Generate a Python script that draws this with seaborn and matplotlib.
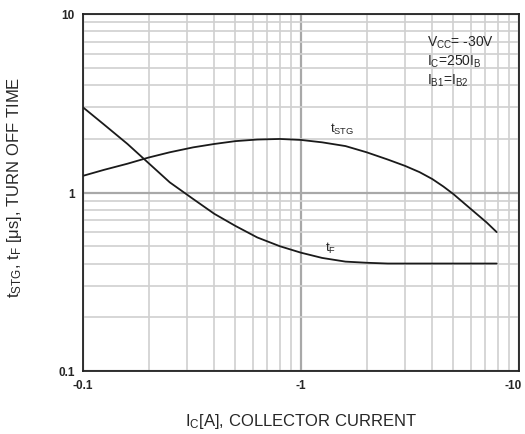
import numpy as np
import pandas as pd
import matplotlib
matplotlib.use("Agg")
import matplotlib.pyplot as plt
import matplotlib.transforms as mtransforms
import seaborn as sns
from matplotlib.ticker import FixedLocator, FixedFormatter, LogLocator, NullFormatter

# Data (|Ic| in A, time in us)
ic_stg = [0.1, 0.125, 0.16, 0.2, 0.25, 0.32, 0.4, 0.5, 0.63, 0.8, 1.0, 1.25, 1.6,
          2.0, 2.5, 3.0, 3.5, 4.0, 4.5, 5.0, 6.0, 7.1, 7.9]
t_stg = [1.24, 1.34, 1.45, 1.57, 1.68, 1.79, 1.87, 1.94, 1.98, 1.995, 1.97, 1.91, 1.82,
         1.68, 1.53, 1.41, 1.30, 1.19, 1.08, 0.98, 0.81, 0.68, 0.60]
ic_f = [0.1, 0.125, 0.16, 0.2, 0.25, 0.32, 0.4, 0.5, 0.63, 0.8, 1.0, 1.25, 1.6,
        2.0, 2.5, 3.2, 4.0, 5.0, 6.3, 7.9]
t_f = [3.0, 2.4, 1.87, 1.46, 1.14, 0.92, 0.76, 0.65, 0.56, 0.50, 0.46, 0.43, 0.41,
       0.404, 0.40, 0.40, 0.40, 0.40, 0.40, 0.40]

x_ticks = [0.1, 1, 10]
x_ticklabels = ["-0.1", "-1", "-10"]
y_ticks = [0.1, 1, 10]
y_ticklabels = ["0.1", "1", "10"]

df = pd.concat([
    pd.DataFrame({"ic": ic_stg, "t": t_stg, "series": "tSTG"}),
    pd.DataFrame({"ic": ic_f, "t": t_f, "series": "tF"}),
])

sns.set_style("white")
plt.rcParams['font.family'] = ['Liberation Sans', 'DejaVu Sans']
plt.rcParams['mathtext.fontset'] = 'custom'
plt.rcParams['mathtext.rm'] = 'Liberation Sans'
plt.rcParams['mathtext.it'] = 'Liberation Sans'

fig = plt.figure(figsize=(5.25, 4.35), dpi=100)
ax = fig.add_axes([83/525, 1-372/435, 436/525, 357/435])

sns.lineplot(data=df, x="ic", y="t", units="series", estimator=None,
             color="#1a1a1a", lw=1.3, ax=ax, sort=False, legend=False)

ax.set_xscale("log")
ax.set_yscale("log")
ax.set_xlim(0.1, 10)
ax.set_ylim(0.1, 10)

ax.xaxis.set_minor_locator(LogLocator(base=10, subs=np.arange(2, 10)))
ax.yaxis.set_minor_locator(LogLocator(base=10, subs=np.arange(2, 10)))
ax.xaxis.set_minor_formatter(NullFormatter())
ax.yaxis.set_minor_formatter(NullFormatter())
ax.xaxis.set_major_locator(FixedLocator(x_ticks))
ax.xaxis.set_major_formatter(FixedFormatter(x_ticklabels))
ax.yaxis.set_major_locator(FixedLocator(y_ticks))
ax.yaxis.set_major_formatter(FixedFormatter(y_ticklabels))

ax.grid(which="minor", color="#d0d0d0", lw=1.2)
ax.grid(which="major", color="#a8a8a8", lw=1.6)
ax.set_axisbelow(True)

ax.tick_params(which="major", length=0, pad=6, labelsize=8.5)
ax.tick_params(which="minor", length=0)
for lab in ax.get_xticklabels() + ax.get_yticklabels():
    lab.set_fontweight("bold")
ax.tick_params(axis="x", pad=6)
# nudge the last x tick label so it stays inside the figure
last = ax.get_xticklabels()[-1]
last.set_transform(last.get_transform() +
                   mtransforms.ScaledTranslation(-6/100, 0, fig.dpi_scale_trans))

for s in ax.spines.values():
    s.set_color("#222222")
    s.set_linewidth(1.3)

ax.set_xlabel(r"I$_\mathregular{C}$[A], COLLECTOR CURRENT", fontsize=12, labelpad=14)
ax.set_ylabel(r"t$_\mathregular{STG}$, t$_\mathregular{F}$ [μs], TURN OFF TIME", fontsize=12)
ax.yaxis.set_label_coords((24 - 83) / 436, (372 - 187) / 357)

ax.text(1.55, 2.27, r"t$_\mathregular{STG}$", fontsize=9.5, ha="center", va="center")
ax.text(1.36, 0.49, r"t$_\mathregular{F}$", fontsize=9.5, ha="center", va="center")

fig.text(427/525, 1-43/435, r"V$_\mathregular{CC}$= -30V", fontsize=10, va="center", ha="left")
fig.text(427/525, 1-62/435, r"I$_\mathregular{C}$=250I$_\mathregular{B}$", fontsize=10, va="center", ha="left")
fig.text(427/525, 1-81/435, r"I$_\mathregular{B1}$=I$_\mathregular{B2}$", fontsize=10, va="center", ha="left")

fig.savefig("out.png", dpi=100)
